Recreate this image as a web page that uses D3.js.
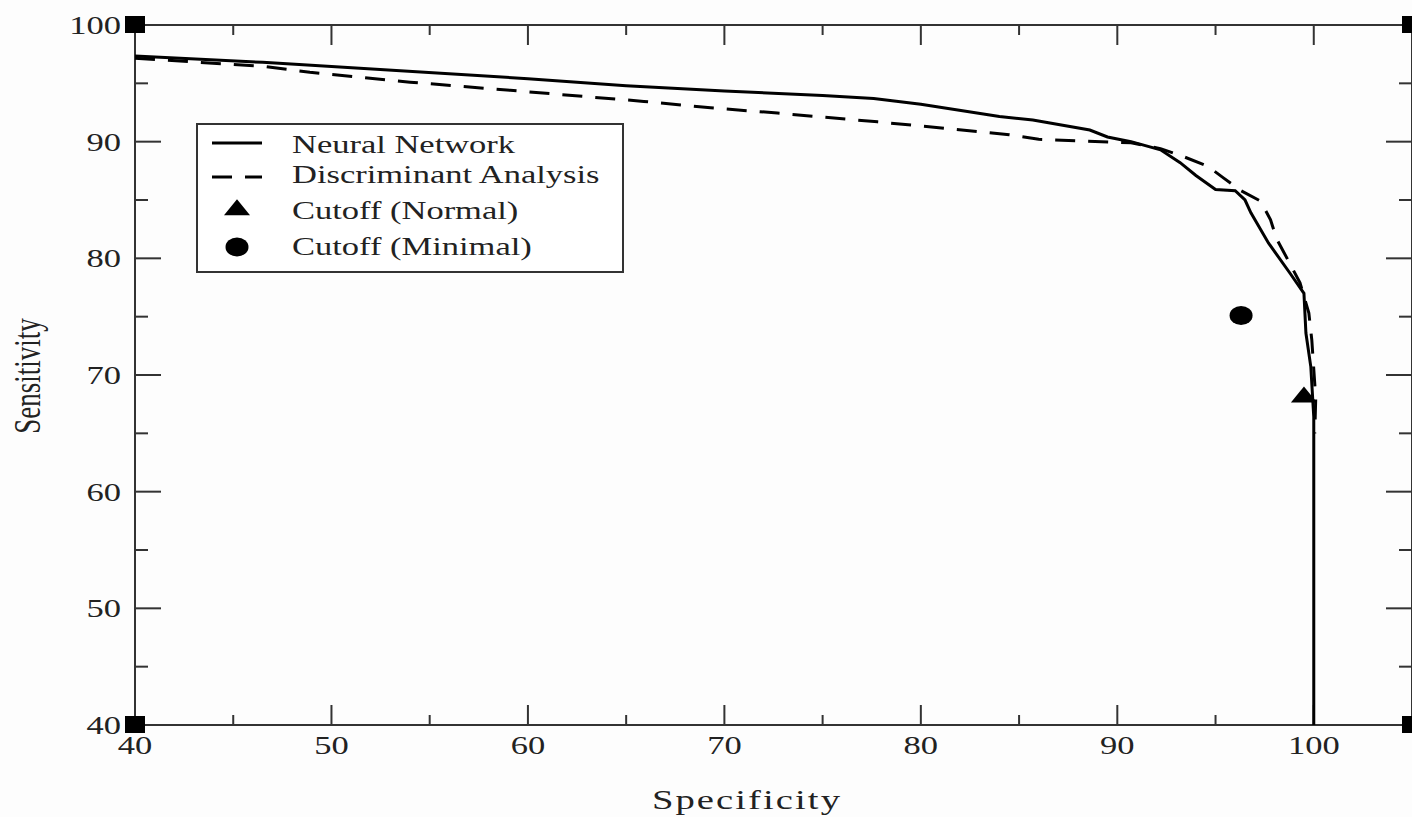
<!DOCTYPE html>
<html>
<head>
<meta charset="utf-8">
<script src="https://cdn.jsdelivr.net/npm/d3@7"></script>
<style>
  body { margin: 0; background: #fff; }
  svg { display: block; }
</style>
</head>
<body>
<div class="chart"></div>
<script>
// ROC curves
var nnSpec = [40, 46.5, 53.3, 60, 65, 70, 75, 77.6, 80, 84, 85.7, 88.6, 89.5, 90.7, 92.2, 93.2, 94, 95, 96, 96.5, 96.8, 97.7, 98.8, 99.5, 99.6, 99.85, 100, 100, 100];
var nnSens = [97.35, 96.8, 96.1, 95.4, 94.8, 94.35, 93.95, 93.7, 93.2, 92.15, 91.85, 91.0, 90.4, 90.0, 89.3, 88.2, 87.1, 85.9, 85.8, 85.0, 83.9, 81.3, 78.7, 77.0, 73.6, 70.7, 66.4, 64, 40];

var daSpec = [40, 46.6, 48.9, 54, 59.1, 65.9, 69.3, 72.7, 77.8, 84.5, 86, 89.2, 90.7, 92.2, 93.4, 94.6, 95.4, 96.3, 97.3, 97.8, 98.1, 98.8, 99.3, 99.75, 99.9, 100.1, 100.05];
var daSens = [97.15, 96.45, 95.95, 95.1, 94.4, 93.45, 92.9, 92.45, 91.7, 90.6, 90.2, 90.0, 89.9, 89.4, 88.7, 87.9, 86.9, 85.8, 84.9, 83.3, 81.7, 79.5, 77.9, 75.3, 73, 68, 65];

var cutoffNames = ["Cutoff (Normal)", "Cutoff (Minimal)"];
var cutoffSpec = [99.5, 96.3];
var cutoffSens = [68.1, 75.1];

var seriesNames = ["Neural Network", "Discriminant Analysis"];
var xTicks = [40, 50, 60, 70, 80, 90, 100];
var yTicks = [40, 50, 60, 70, 80, 90, 100];

var W = 1412, H = 817;
var plotLeft = 135, plotRight = 1412, plotTop = 25, plotBottom = 725;
var stretch = 1.38;

var x = d3.scaleLinear().domain([40, 105]).range([plotLeft, plotRight]);
var y = d3.scaleLinear().domain([40, 100]).range([plotBottom, plotTop]);

var svg = d3.select(".chart").append("svg")
    .attr("width", W)
    .attr("height", H);

svg.append("rect").attr("width", W).attr("height", H).attr("fill", "#fdfdfd");

// stretched serif text, like the scanned figure
function label(txt, px, py, anchor, size, rot) {
    var t = svg.append("text")
        .attr("transform", "translate(" + px + "," + py + ") scale(" + stretch + ",1)" + (rot ? " rotate(" + rot + ")" : ""))
        .attr("text-anchor", anchor)
        .attr("font-family", "'Liberation Serif', 'Times New Roman', serif")
        .style("font-size", size + "px")
        .attr("fill", "#222")
        .text(txt);
    return t;
}

// frame
svg.append("rect")
    .attr("x", plotLeft).attr("y", plotTop)
    .attr("width", plotRight - plotLeft).attr("height", plotBottom - plotTop)
    .attr("fill", "none").attr("stroke", "#333").attr("stroke-width", 2);

// ticks on all four sides
var xMinor = d3.range(45, 105, 10);
var yMinor = d3.range(45, 100, 10);
var tk = svg.append("g").attr("stroke", "#333").attr("stroke-width", 2);
xTicks.concat([105]).forEach(function (v) {
    tk.append("line").attr("x1", x(v)).attr("x2", x(v)).attr("y1", plotBottom).attr("y2", plotBottom - 20);
    tk.append("line").attr("x1", x(v)).attr("x2", x(v)).attr("y1", plotTop).attr("y2", plotTop + 20);
});
xMinor.forEach(function (v) {
    tk.append("line").attr("x1", x(v)).attr("x2", x(v)).attr("y1", plotBottom).attr("y2", plotBottom - 10);
    tk.append("line").attr("x1", x(v)).attr("x2", x(v)).attr("y1", plotTop).attr("y2", plotTop + 10);
});
yTicks.forEach(function (v) {
    tk.append("line").attr("x1", plotLeft).attr("x2", plotLeft + 26).attr("y1", y(v)).attr("y2", y(v));
    tk.append("line").attr("x1", plotRight).attr("x2", plotRight - 26).attr("y1", y(v)).attr("y2", y(v));
});
yMinor.forEach(function (v) {
    tk.append("line").attr("x1", plotLeft).attr("x2", plotLeft + 13).attr("y1", y(v)).attr("y2", y(v));
    tk.append("line").attr("x1", plotRight).attr("x2", plotRight - 13).attr("y1", y(v)).attr("y2", y(v));
});

// corner squares
[[40, 100], [40, 40], [105, 100], [105, 40]].forEach(function (c) {
    svg.append("rect")
        .attr("x", x(c[0]) - 10).attr("y", y(c[1]) - 9)
        .attr("width", 20).attr("height", 17)
        .attr("fill", "#000");
});

// tick labels
xTicks.forEach(function (v) {
    label(v, x(v), plotBottom + 29, "middle", 25);
});
yTicks.forEach(function (v) {
    label(v, plotLeft - 14, y(v) + 9, "end", 25);
});

// axis titles
label("Specificity", 747, 809, "middle", 28).attr("letter-spacing", 1.5);
label("Sensitivity", 40, 376, "middle", 27, -90);

// curves
var line = d3.line()
    .x(function (d) { return x(d[0]); })
    .y(function (d) { return y(d[1]); });

var daData = daSpec.map(function (v, i) { return [v, daSens[i]]; });
var nnData = nnSpec.map(function (v, i) { return [v, nnSens[i]]; });

svg.append("path")
    .datum(daData)
    .attr("d", line)
    .attr("fill", "none")
    .attr("stroke", "#000")
    .attr("stroke-width", 3)
    .attr("stroke-dasharray", "20,13");

svg.append("path")
    .datum(nnData)
    .attr("d", line)
    .attr("fill", "none")
    .attr("stroke", "#000")
    .attr("stroke-width", 3);

// cutoff markers
var tri = d3.symbol().type(d3.symbolTriangle).size(150);
svg.append("path")
    .attr("d", tri)
    .attr("transform", "translate(" + x(cutoffSpec[0]) + "," + y(cutoffSens[0]) + ") scale(1.4,1)")
    .attr("fill", "#000");
svg.append("ellipse")
    .attr("cx", x(cutoffSpec[1])).attr("cy", y(cutoffSens[1]))
    .attr("rx", 11.5).attr("ry", 9.5)
    .attr("fill", "#000");

// legend
var lg = svg.append("g");
lg.append("rect")
    .attr("x", 197).attr("y", 124)
    .attr("width", 426).attr("height", 148)
    .attr("fill", "#fff").attr("stroke", "#333").attr("stroke-width", 2);
lg.append("line").attr("x1", 212).attr("x2", 262).attr("y1", 143).attr("y2", 143)
    .attr("stroke", "#000").attr("stroke-width", 3);
lg.append("line").attr("x1", 212).attr("x2", 262).attr("y1", 177).attr("y2", 177)
    .attr("stroke", "#000").attr("stroke-width", 3).attr("stroke-dasharray", "20,13");
lg.append("path").attr("d", tri)
    .attr("transform", "translate(237,210) scale(1.4,1)")
    .attr("fill", "#000");
lg.append("ellipse").attr("cx", 237).attr("cy", 247).attr("rx", 11.5).attr("ry", 9.5).attr("fill", "#000");

var legendNames = seriesNames.concat(cutoffNames);
var legendY = [153, 183, 219, 255];
legendNames.forEach(function (n, i) {
    label(n, 292, legendY[i], "start", 25);
});
</script>
</body>
</html>
